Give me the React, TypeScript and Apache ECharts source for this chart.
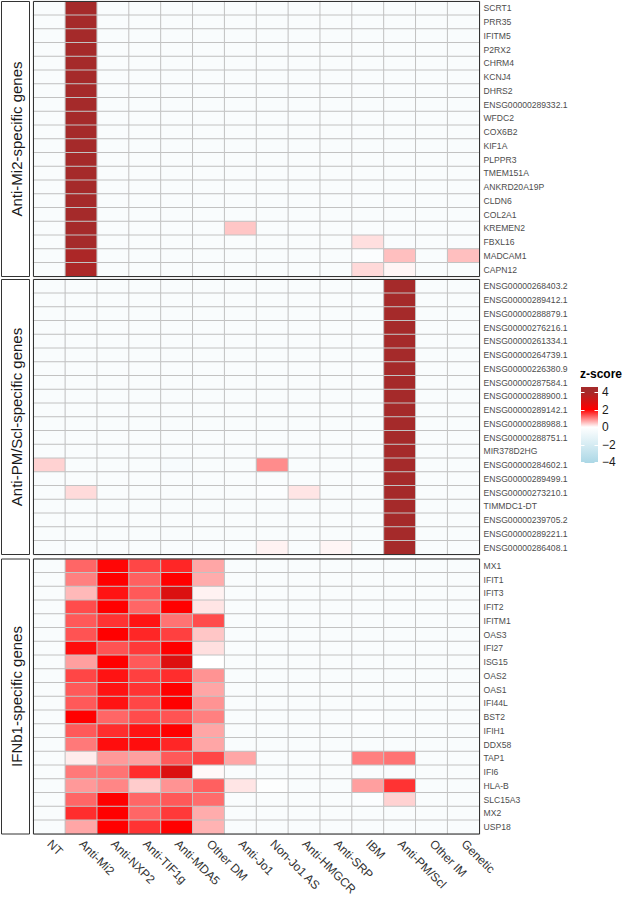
import React, { useEffect, useRef } from "react";
import * as echarts from "echarts";

const groups = [
  "NT", "Anti-Mi2", "Anti-NXP2", "Anti-TIF1g", "Anti-MDA5", "Other DM", "Anti-Jo1",
  "Non-Jo1 AS", "Anti-HMGCR", "Anti-SRP", "IBM", "Anti-PM/Scl", "Other IM", "Genetic",
];

const panelTitles = ["Anti-Mi2-specific genes", "Anti-PM/Scl-specific genes", "IFNb1-specific genes"];

const mi2Genes = [
  "SCRT1", "PRR35", "IFITM5", "P2RX2", "CHRM4", "KCNJ4", "DHRS2", "ENSG00000289332.1", "WFDC2", "COX6B2",
  "KIF1A", "PLPPR3", "TMEM151A", "ANKRD20A19P", "CLDN6", "COL2A1", "KREMEN2", "FBXL16", "MADCAM1", "CAPN12",
];

const pmsclGenes = [
  "ENSG00000268403.2", "ENSG00000289412.1", "ENSG00000288879.1", "ENSG00000276216.1", "ENSG00000261334.1",
  "ENSG00000264739.1", "ENSG00000226380.9", "ENSG00000287584.1", "ENSG00000288900.1", "ENSG00000289142.1",
  "ENSG00000288988.1", "ENSG00000288751.1", "MIR378D2HG", "ENSG00000284602.1", "ENSG00000289499.1",
  "ENSG00000273210.1", "TIMMDC1-DT", "ENSG00000239705.2", "ENSG00000289221.1", "ENSG00000286408.1",
];

const ifnGenes = [
  "MX1", "IFIT1", "IFIT3", "IFIT2", "IFITM1", "OAS3", "IFI27", "ISG15", "OAS2", "OAS1",
  "IFI44L", "BST2", "IFIH1", "DDX58", "TAP1", "IFI6", "HLA-B", "SLC15A3", "MX2", "USP18",
];

// rows = genes (top to bottom), columns = groups
const mi2Values = [
  [-0.3, 4.6, -0.3, -0.3, -0.3, -0.3, -0.3, -0.3, -0.3, -0.3, -0.3, -0.3, -0.3, -0.3],
  [-0.3, 4.6, -0.3, -0.3, -0.3, -0.3, -0.3, -0.3, -0.3, -0.3, -0.3, -0.3, -0.3, -0.3],
  [-0.3, 4.6, -0.3, -0.3, -0.3, -0.3, -0.3, -0.3, -0.3, -0.3, -0.3, -0.3, -0.3, -0.3],
  [-0.3, 4.6, -0.3, -0.3, -0.3, -0.3, -0.3, -0.3, -0.3, -0.3, -0.3, -0.3, -0.3, -0.3],
  [-0.3, 4.6, -0.3, -0.3, -0.3, -0.3, -0.3, -0.3, -0.3, -0.3, -0.3, -0.3, -0.3, -0.3],
  [-0.3, 4.6, -0.3, -0.3, -0.3, -0.3, -0.3, -0.3, -0.3, -0.3, -0.3, -0.3, -0.3, -0.3],
  [-0.3, 4.6, -0.3, -0.3, -0.3, -0.3, -0.3, -0.3, -0.3, -0.3, -0.3, -0.3, -0.3, -0.3],
  [-0.3, 4.6, -0.3, -0.3, -0.3, -0.3, -0.3, -0.3, -0.3, -0.3, -0.3, -0.3, -0.3, -0.3],
  [-0.3, 4.6, -0.3, -0.3, -0.3, -0.3, -0.3, -0.3, -0.3, -0.3, -0.3, -0.3, -0.3, -0.3],
  [-0.3, 4.6, -0.3, -0.3, -0.3, -0.3, -0.3, -0.3, -0.3, -0.3, -0.3, -0.3, -0.3, -0.3],
  [-0.3, 4.6, -0.3, -0.3, -0.3, -0.3, -0.3, -0.3, -0.3, -0.3, -0.3, -0.3, -0.3, -0.3],
  [-0.3, 4.6, -0.3, -0.3, -0.3, -0.3, -0.3, -0.3, -0.3, -0.3, -0.3, -0.3, -0.3, -0.3],
  [-0.3, 4.6, -0.3, -0.3, -0.3, -0.3, -0.3, -0.3, -0.3, -0.3, -0.3, -0.3, -0.3, -0.3],
  [-0.3, 4.6, -0.3, -0.3, -0.3, -0.3, -0.3, -0.3, -0.3, -0.3, -0.3, -0.3, -0.3, -0.3],
  [-0.3, 4.6, -0.3, -0.3, -0.3, -0.3, -0.3, -0.3, -0.3, -0.3, -0.3, -0.3, -0.3, -0.3],
  [-0.3, 4.6, -0.3, -0.3, -0.3, -0.3, -0.3, -0.3, -0.3, -0.3, -0.3, -0.3, -0.3, -0.3],
  [-0.3, 4.6, -0.3, -0.3, -0.3, -0.3, 0.45, -0.3, -0.3, -0.3, -0.3, -0.3, -0.3, -0.3],
  [-0.3, 4.6, -0.3, -0.3, -0.3, -0.3, -0.3, -0.3, -0.3, -0.3, 0.25, -0.3, -0.3, -0.3],
  [-0.3, 3.85, -0.3, -0.3, -0.3, -0.3, -0.3, -0.3, -0.3, -0.3, -0.2, 0.5, -0.3, 0.5],
  [-0.3, 3.85, -0.3, -0.3, -0.3, -0.3, -0.3, -0.3, -0.3, -0.3, 0.3, 0.08, -0.3, -0.3],
];

const pmsclValues = [
  [-0.3, -0.3, -0.3, -0.3, -0.3, -0.3, -0.3, -0.3, -0.3, -0.3, -0.3, 4.6, -0.3, -0.3],
  [-0.3, -0.3, -0.3, -0.3, -0.3, -0.3, -0.3, -0.3, -0.3, -0.3, -0.3, 4.6, -0.3, -0.3],
  [-0.3, -0.3, -0.3, -0.3, -0.3, -0.3, -0.3, -0.3, -0.3, -0.3, -0.3, 4.6, -0.3, -0.3],
  [-0.3, -0.3, -0.3, -0.3, -0.3, -0.3, -0.3, -0.3, -0.3, -0.3, -0.3, 4.6, -0.3, -0.3],
  [-0.3, -0.3, -0.3, -0.3, -0.3, -0.3, -0.3, -0.3, -0.3, -0.3, -0.3, 4.6, -0.3, -0.3],
  [-0.3, -0.3, -0.3, -0.3, -0.3, -0.3, -0.3, -0.3, -0.3, -0.3, -0.3, 4.6, -0.3, -0.3],
  [-0.3, -0.3, -0.3, -0.3, -0.3, -0.3, -0.3, -0.3, -0.3, -0.3, -0.3, 4.6, -0.3, -0.3],
  [-0.3, -0.3, -0.3, -0.3, -0.3, -0.3, -0.3, -0.3, -0.3, -0.3, -0.3, 4.6, -0.3, -0.3],
  [-0.3, -0.3, -0.3, -0.3, -0.3, -0.3, -0.3, -0.3, -0.3, -0.3, -0.3, 4.6, -0.3, -0.3],
  [-0.3, -0.3, -0.3, -0.3, -0.3, -0.3, -0.3, -0.3, -0.3, -0.3, -0.3, 4.6, -0.3, -0.3],
  [-0.3, -0.3, -0.3, -0.3, -0.3, -0.3, -0.3, -0.3, -0.3, -0.3, -0.3, 4.6, -0.3, -0.3],
  [-0.3, -0.3, -0.3, -0.3, -0.3, -0.3, -0.3, -0.3, -0.3, -0.3, -0.3, 4.6, -0.3, -0.3],
  [-0.3, -0.3, -0.3, -0.3, -0.3, -0.3, -0.3, -0.3, -0.3, -0.3, -0.3, 4.6, -0.3, -0.3],
  [0.35, -0.3, -0.3, -0.3, -0.4, -0.3, -0.3, 0.9, -0.3, -0.3, -0.3, 4.4, -0.3, -0.3],
  [-0.3, -0.3, -0.3, -0.3, -0.3, -0.3, -0.3, -0.3, -0.3, -0.3, -0.3, 4.6, -0.3, -0.3],
  [-0.3, 0.28, -0.3, -0.3, -0.3, -0.3, -0.3, -0.2, 0.2, -0.3, -0.3, 4.6, -0.3, -0.3],
  [-0.3, -0.3, -0.3, -0.3, -0.3, -0.3, -0.3, -0.3, -0.3, -0.3, -0.3, 4.6, -0.3, -0.3],
  [-0.3, -0.3, -0.3, -0.3, -0.3, -0.3, -0.3, -0.3, -0.3, -0.3, -0.3, 4.6, -0.3, -0.3],
  [-0.3, -0.3, -0.3, -0.3, -0.3, -0.3, -0.3, -0.3, -0.3, -0.3, -0.3, 4.6, -0.3, -0.3],
  [-0.3, -0.3, -0.3, -0.3, -0.3, -0.3, -0.3, 0.1, -0.3, 0.08, -0.3, 4.6, -0.3, -0.3],
];

const ifnValues = [
  [-0.3, 1.2, 1.95, 1.45, 1.7, 0.7, -0.3, -0.3, -0.3, -0.3, -0.3, -0.3, -0.3, -0.3],
  [-0.3, 1.0, 2.0, 1.25, 2.0, 0.65, -0.3, -0.3, -0.3, -0.3, -0.3, -0.3, -0.3, -0.3],
  [-0.3, 0.55, 1.85, 1.3, 2.8, 0.1, -0.3, -0.3, -0.3, -0.3, -0.3, -0.3, -0.3, -0.3],
  [-0.3, 1.4, 2.0, 1.2, 2.0, 0.2, -0.3, -0.3, -0.3, -0.3, -0.3, -0.3, -0.3, -0.3],
  [-0.3, 1.3, 1.6, 1.85, 1.1, 1.4, -0.3, -0.3, -0.3, -0.3, -0.3, -0.3, -0.3, -0.3],
  [-0.3, 1.35, 2.0, 1.7, 1.5, 0.45, -0.3, -0.3, -0.3, -0.3, -0.3, -0.3, -0.3, -0.3],
  [-0.3, 1.9, 1.35, 1.55, 2.0, 0.25, -0.3, -0.3, -0.3, -0.3, -0.3, -0.3, -0.3, -0.3],
  [-0.3, 0.75, 2.0, 1.3, 2.75, 0.0, -0.3, -0.3, -0.3, -0.3, -0.3, -0.3, -0.3, -0.3],
  [-0.3, 1.45, 1.85, 1.5, 1.65, 0.85, -0.3, -0.3, -0.3, -0.3, -0.3, -0.3, -0.3, -0.3],
  [-0.3, 1.3, 1.85, 1.6, 2.0, 0.7, -0.3, -0.3, -0.3, -0.3, -0.3, -0.3, -0.3, -0.3],
  [-0.3, 1.3, 1.85, 1.45, 2.0, 0.85, -0.3, -0.3, -0.3, -0.3, -0.3, -0.3, -0.3, -0.3],
  [-0.3, 2.0, 1.2, 1.4, 1.35, 1.0, -0.3, -0.3, -0.3, -0.3, -0.2, -0.3, -0.3, -0.3],
  [-0.3, 1.3, 1.65, 1.85, 2.0, 0.7, -0.3, -0.3, -0.3, -0.3, -0.3, -0.3, -0.3, -0.3],
  [-0.3, 1.05, 1.9, 1.9, 1.7, 0.7, -0.3, -0.3, -0.3, -0.3, -0.3, -0.3, -0.3, -0.3],
  [-0.3, 0.15, 0.8, 0.75, 1.3, 1.45, 0.7, -0.3, -0.3, -0.3, 1.0, 1.1, -0.3, -0.3],
  [-0.3, 1.05, 1.1, 1.65, 2.8, 0.05, -0.3, -0.3, -0.3, -0.3, -0.3, -0.3, -0.3, -0.3],
  [-0.3, 0.8, 0.95, 0.4, 0.85, 1.25, 0.2, -0.1, -0.3, -0.3, 0.75, 1.6, -0.3, -0.3],
  [-0.3, 1.2, 2.0, 1.2, 1.3, 1.15, -0.3, -0.3, -0.3, -0.3, -0.2, 0.35, -0.3, -0.3],
  [-0.3, 1.65, 2.0, 1.2, 1.55, 0.65, -0.3, -0.3, -0.3, -0.3, -0.3, -0.3, -0.3, -0.3],
  [-0.3, 0.7, 2.0, 1.6, 2.0, 0.6, -0.3, -0.3, -0.3, -0.3, -0.3, -0.3, -0.3, -0.3],
];

const legendTicks = [4, 2, 0, -2, -4];
const scaleColors = ["#add8e6", "#d6ecf3", "#ffffff", "#ff0000", "#a52a2a"];

const FONT = "'Liberation Sans', Arial, Helvetica, sans-serif";

export default function App() {
  const ref = useRef<HTMLDivElement>(null);

  useEffect(() => {
    if (!ref.current) return;
    const chart = echarts.init(ref.current, null, { renderer: "svg" });

    const panels = [
      { genes: mi2Genes, values: mi2Values },
      { genes: pmsclGenes, values: pmsclValues },
      { genes: ifnGenes, values: ifnValues },
    ];
    const gridLeft = 33.5;
    const gridWidth = 446;
    const gridHeight = 275;
    const tops = [1.5, 279.5, 559];

    const grids = tops.map((t) => ({ left: gridLeft, top: t, width: gridWidth, height: gridHeight }));
    const xAxes = panels.map((_, i) => ({
      type: "category",
      gridIndex: i,
      data: groups,
      axisLine: { show: false },
      axisTick: { show: false },
      splitLine: { show: false },
      axisLabel: {
        show: i === 2,
        rotate: -45,
        interval: 0,
        margin: 8,
        fontSize: 12,
        fontFamily: FONT,
        color: "#333333",
      },
    }));
    const yAxes = panels.map((p, i) => ({
      type: "category",
      gridIndex: i,
      data: p.genes,
      inverse: true,
      position: "right",
      axisLine: { show: false },
      axisTick: { show: false },
      splitLine: { show: false },
      axisLabel: { interval: 0, margin: 4, fontSize: 8.6, fontFamily: FONT, color: "#4d4d4d" },
    }));
    const series = panels.map((p, i) => {
      const data: number[][] = [];
      p.values.forEach((row, r) => row.forEach((v, c) => data.push([c, r, v])));
      return {
        type: "heatmap",
        xAxisIndex: i,
        yAxisIndex: i,
        data,
        itemStyle: { borderColor: "#c2c2c2", borderWidth: 1 },
        emphasis: { disabled: true },
      };
    });

    const graphic: any[] = [];
    tops.forEach((t, i) => {
      graphic.push({
        type: "rect",
        z: 100,
        shape: { x: gridLeft, y: t, width: gridWidth, height: gridHeight },
        style: { fill: "none", stroke: "#333333", lineWidth: 1 },
      });
      graphic.push({
        type: "rect",
        z: 100,
        shape: { x: 1.5, y: t, width: 28, height: gridHeight },
        style: { fill: "#ffffff", stroke: "#333333", lineWidth: 1 },
      });
      graphic.push({
        type: "text",
        z: 101,
        x: 16,
        y: t + gridHeight / 2,
        rotation: Math.PI / 2,
        style: {
          text: panelTitles[i],
          font: `15px ${FONT}`,
          fill: "#1a1a1a",
          align: "center",
          verticalAlign: "middle",
        },
      });
    });

    // colour-bar legend
    const barX = 581;
    const barTop = 387;
    const barH = 76;
    const vTop = 4.57;
    const vBot = -4.1;
    const yOf = (v: number) => barTop + ((vTop - v) / (vTop - vBot)) * barH;
    const off = (v: number) => (vTop - v) / (vTop - vBot);
    graphic.push({
      type: "text",
      x: 580,
      y: 374,
      style: { text: "z-score", font: `bold 12px ${FONT}`, fill: "#000000", align: "left", verticalAlign: "middle" },
    });
    graphic.push({
      type: "rect",
      shape: { x: barX, y: barTop, width: 17, height: barH },
      style: {
        fill: new echarts.graphic.LinearGradient(0, 0, 0, 1, [
          { offset: 0, color: scaleColors[4] },
          { offset: off(4), color: scaleColors[4] },
          { offset: off(2), color: scaleColors[3] },
          { offset: off(0), color: scaleColors[2] },
          { offset: off(-2), color: scaleColors[1] },
          { offset: off(-4), color: scaleColors[0] },
          { offset: 1, color: scaleColors[0] },
        ]),
      },
    });
    legendTicks.forEach((v) => {
      const y = Math.round(yOf(v)) + 0.5;
      graphic.push({
        type: "line",
        z: 10,
        shape: { x1: barX, y1: y, x2: barX + 3.5, y2: y },
        style: { stroke: "#ffffff", lineWidth: 1 },
      });
      graphic.push({
        type: "line",
        z: 10,
        shape: { x1: barX + 13.5, y1: y, x2: barX + 17, y2: y },
        style: { stroke: "#ffffff", lineWidth: 1 },
      });
      graphic.push({
        type: "text",
        x: 602,
        y: yOf(v),
        style: {
          text: v < 0 ? `\u2212${Math.abs(v)}` : String(v),
          font: `12px ${FONT}`,
          fill: "#1a1a1a",
          align: "left",
          verticalAlign: "middle",
        },
      });
    });

    chart.setOption({
      animation: false,
      backgroundColor: "#ffffff",
      grid: grids,
      xAxis: xAxes,
      yAxis: yAxes,
      visualMap: {
        type: "continuous",
        show: false,
        min: -4,
        max: 4,
        seriesIndex: [0, 1, 2],
        inRange: { color: scaleColors },
      },
      series,
      graphic,
    } as any);

    return () => chart.dispose();
  }, []);

  return <div ref={ref} style={{ position: "absolute", left: 0, top: 0, width: 628, height: 899 }} />;
}
